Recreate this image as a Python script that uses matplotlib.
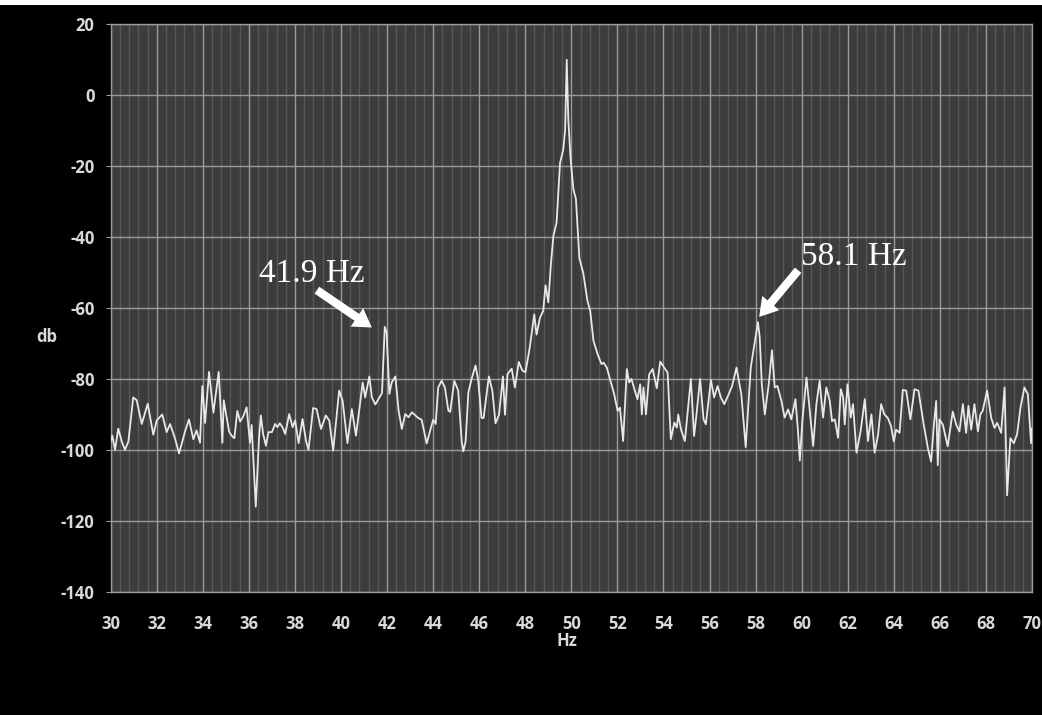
import matplotlib
matplotlib.use("Agg")
import matplotlib.pyplot as plt
from matplotlib.ticker import MultipleLocator
from matplotlib.patches import Rectangle
from matplotlib.transforms import offset_copy

plt.rcParams["axes.unicode_minus"] = False

# ── spectrum around the 50 Hz line (Hz, dB) ──
freq_hz = [
    30.00, 30.07, 30.19, 30.33, 30.48, 30.62, 30.77, 30.98, 31.13, 31.35,
    31.61, 31.85, 32.00, 32.24, 32.43, 32.58, 32.79, 32.97, 33.23, 33.40,
    33.59, 33.73, 33.88, 33.98, 34.10, 34.27, 34.46, 34.69, 34.85, 34.91,
    35.14, 35.25, 35.37, 35.50, 35.62, 35.76, 35.90, 36.05, 36.12, 36.30,
    36.44, 36.52, 36.62, 36.74, 36.85, 37.00, 37.14, 37.24, 37.34, 37.46,
    37.58, 37.75, 37.90, 38.01, 38.16, 38.33, 38.48, 38.59, 38.79, 38.94,
    39.13, 39.34, 39.49, 39.66, 39.92, 40.07, 40.28, 40.47, 40.65, 40.79,
    40.94, 41.05, 41.23, 41.34, 41.49, 41.78, 41.90, 41.98, 42.10, 42.20,
    42.36, 42.50, 42.64, 42.79, 42.93, 43.08, 43.35, 43.50, 43.72, 43.86,
    44.00, 44.11, 44.22, 44.37, 44.51, 44.66, 44.74, 44.92, 45.09, 45.24,
    45.31, 45.41, 45.53, 45.67, 45.84, 45.96, 46.10, 46.19, 46.42, 46.57,
    46.71, 46.86, 47.03, 47.12, 47.23, 47.41, 47.55, 47.72, 47.87, 48.01,
    48.20, 48.39, 48.49, 48.64, 48.78, 48.88, 49.00, 49.11, 49.22, 49.36,
    49.51, 49.65, 49.73, 49.80, 49.87, 49.97, 50.09, 50.20, 50.35, 50.52,
    50.70, 50.82, 50.96, 51.14, 51.31, 51.40, 51.54, 51.72, 51.86, 52.01,
    52.11, 52.25, 52.41, 52.51, 52.61, 52.76, 52.87, 52.99, 53.06, 53.13,
    53.24, 53.38, 53.53, 53.71, 53.86, 54.03, 54.18, 54.32, 54.47, 54.58,
    54.64, 54.76, 54.93, 55.04, 55.19, 55.33, 55.45, 55.59, 55.74, 55.84,
    56.06, 56.20, 56.35, 56.49, 56.64, 56.80, 56.98, 57.17, 57.38, 57.57,
    57.79, 58.10, 58.18, 58.27, 58.40, 58.57, 58.71, 58.83, 58.95, 59.12,
    59.26, 59.41, 59.55, 59.73, 59.84, 59.92, 60.03, 60.21, 60.35, 60.50,
    60.64, 60.78, 60.93, 61.07, 61.22, 61.32, 61.44, 61.58, 61.70, 61.80,
    61.87, 61.99, 62.13, 62.23, 62.38, 62.56, 62.74, 62.88, 63.03, 63.17,
    63.32, 63.45, 63.59, 63.74, 63.88, 64.00, 64.10, 64.25, 64.39, 64.54,
    64.72, 64.90, 65.07, 65.30, 65.48, 65.62, 65.74, 65.84, 65.91, 65.98,
    66.13, 66.34, 66.56, 66.71, 66.85, 67.00, 67.14, 67.24, 67.36, 67.50,
    67.65, 67.76, 67.86, 68.05, 68.23, 68.37, 68.49, 68.66, 68.81, 68.92,
    69.06, 69.21, 69.35, 69.50, 69.67, 69.82, 69.96, 70.00,
]
level_db = [
    -97.6, -96.0, -100.0, -94.0, -97.6, -100.0, -97.6, -85.2, -86.0, -92.7,
    -87.0, -95.7, -91.7, -90.0, -95.0, -92.7, -96.7, -101.0, -94.8, -91.4,
    -97.0, -94.5, -98.0, -82.0, -92.4, -78.0, -89.5, -78.0, -98.0, -86.0,
    -94.8, -96.0, -96.7, -89.0, -92.0, -90.5, -88.0, -98.0, -93.0, -116.0,
    -96.7, -90.3, -95.5, -98.8, -95.0, -95.0, -92.7, -93.6, -92.5, -93.6,
    -95.5, -89.9, -93.6, -91.7, -98.1, -91.3, -97.4, -100.0, -88.2, -88.5,
    -94.1, -90.3, -91.7, -100.2, -83.3, -86.1, -98.1, -88.5, -96.0, -88.9,
    -81.0, -85.2, -79.3, -85.2, -87.2, -84.0, -65.3, -66.9, -84.2, -81.0,
    -79.3, -88.9, -94.1, -89.9, -90.8, -89.4, -91.0, -91.5, -98.2, -94.9,
    -91.5, -92.7, -82.4, -80.5, -82.4, -88.9, -89.3, -80.5, -83.3, -97.7,
    -100.4, -97.7, -83.8, -80.0, -76.2, -80.5, -91.0, -91.0, -79.3, -83.3,
    -92.5, -90.1, -79.3, -90.1, -78.6, -77.1, -82.4, -75.2, -77.6, -78.1,
    -70.9, -61.8, -67.5, -62.7, -60.8, -53.6, -58.4, -47.9, -39.7, -35.9,
    -19.1, -15.3, -9.8, 10.0, -7.0, -18.1, -26.5, -29.3, -46.0, -50.2,
    -58.0, -60.8, -69.2, -73.0, -75.8, -75.4, -76.8, -81.0, -84.3, -89.0,
    -88.1, -97.5, -77.2, -81.0, -80.0, -83.4, -85.7, -81.5, -90.0, -82.4,
    -90.0, -78.7, -77.2, -82.6, -75.1, -76.8, -78.2, -97.0, -92.3, -93.7,
    -90.0, -94.2, -97.5, -90.0, -80.0, -96.1, -89.0, -80.0, -91.4, -92.8,
    -80.3, -85.2, -82.0, -85.2, -87.1, -84.8, -82.0, -76.8, -84.3, -99.2,
    -76.8, -64.0, -68.3, -81.5, -90.0, -81.5, -71.9, -82.4, -82.0, -86.2,
    -90.9, -88.6, -91.4, -85.7, -94.7, -103.0, -91.9, -79.6, -89.0, -98.9,
    -87.1, -80.5, -90.9, -82.4, -86.2, -91.9, -91.4, -96.6, -82.9, -85.2,
    -92.8, -81.5, -90.9, -87.1, -100.8, -94.7, -85.7, -97.5, -90.0, -100.8,
    -95.6, -87.1, -90.0, -91.0, -93.3, -97.6, -94.3, -95.2, -83.1, -83.3,
    -91.4, -82.9, -83.3, -92.9, -99.5, -103.3, -92.9, -86.2, -104.3, -91.4,
    -92.9, -99.0, -89.2, -92.9, -94.8, -87.1, -95.2, -87.6, -94.3, -87.1,
    -94.8, -90.0, -89.0, -83.3, -91.0, -93.8, -92.4, -95.2, -82.4, -112.8,
    -96.7, -98.1, -95.7, -88.1, -82.4, -84.3, -98.1, -94.0,
]

# sideband peaks that get called out
peak_labels = ["41.9 Hz", "58.1 Hz"]
peak_freq = [41.9, 58.1]
peak_db = [-65.3, -64.0]

x_ticks = list(range(30, 71, 2))
y_ticks = list(range(-140, 21, 20))

PLOT_BG = "#3c3c3c"
MAJOR = "#9a9a9a"
MINOR = "#575757"
TXT = "#d9d9d9"
TICK_FONT = dict(family="Open Sans", weight="bold", size=12)

fig = plt.figure(figsize=(10.42, 7.15), dpi=100, facecolor="black")
ax = fig.add_axes([0.1062, 0.1724, 0.8842, 0.7936])
ax.set_facecolor(PLOT_BG)

ax.plot(freq_hz, level_db, color="#e8e8e8", lw=1.3, zorder=3)

ax.set_xlim(30, 70)
ax.set_ylim(-140, 20)
ax.set_xticks(x_ticks)
ax.set_yticks(y_ticks)
ax.xaxis.set_minor_locator(MultipleLocator(0.4))
ax.grid(which="major", color=MAJOR, lw=1.0, zorder=1)
ax.grid(which="minor", axis="x", color=MINOR, lw=1.0, zorder=0)
ax.set_axisbelow(True)
for sp in ax.spines.values():
    sp.set_color(MAJOR)
    sp.set_linewidth(1.0)

ax.tick_params(which="minor", length=0)
ax.tick_params(axis="y", which="major", length=3.5, color=MAJOR, pad=8)
ax.tick_params(axis="x", which="major", length=0, pad=17)
tick_fp = matplotlib.font_manager.FontProperties(**TICK_FONT)
for lab in ax.get_xticklabels() + ax.get_yticklabels():
    lab.set_fontproperties(tick_fp)
    lab.set_color(TXT)

fig.text(47 / 1042, 1 - 337 / 715, "db", color=TXT, ha="center", va="center", **TICK_FONT)
fig.text(567 / 1042, 1 - 641 / 715, "Hz", color=TXT, ha="center", va="center", **TICK_FONT)

# arrows + labels for the sidebands (offsets in points from each peak)
tip_offsets = [(-9.3, -0.5), (0.9, 3.8)]
tail_offsets = [(-39.6, 26.9), (28.1, 33.6)]
text_offsets = [(-52.6, 32.1), (69.2, 41.0)]
for lbl, fx, fy, tip, tail, toff in zip(peak_labels, peak_freq, peak_db,
                                        tip_offsets, tail_offsets, text_offsets):
    tip_tr = offset_copy(ax.transData, fig=fig, x=tip[0], y=tip[1], units="points")
    ax.annotate("", xy=(fx, fy), xycoords=tip_tr,
                xytext=tail, textcoords="offset points",
                arrowprops=dict(arrowstyle="simple,head_length=13,head_width=16,tail_width=6",
                                mutation_scale=1, fc="white", ec="white", lw=0,
                                shrinkA=0, shrinkB=0),
                zorder=5)
    ax.annotate(lbl, xy=(fx, fy), xytext=toff, textcoords="offset points",
                ha="center", va="baseline", color="white",
                family=["Liberation Serif", "DejaVu Serif"], fontsize=24, zorder=5)

# thin white band along the top edge
fig.add_artist(Rectangle((0, 1 - 5 / 715), 1, 5 / 715, transform=fig.transFigure,
                         color="white", lw=0))

fig.savefig("out.png", dpi=100, facecolor="black")
